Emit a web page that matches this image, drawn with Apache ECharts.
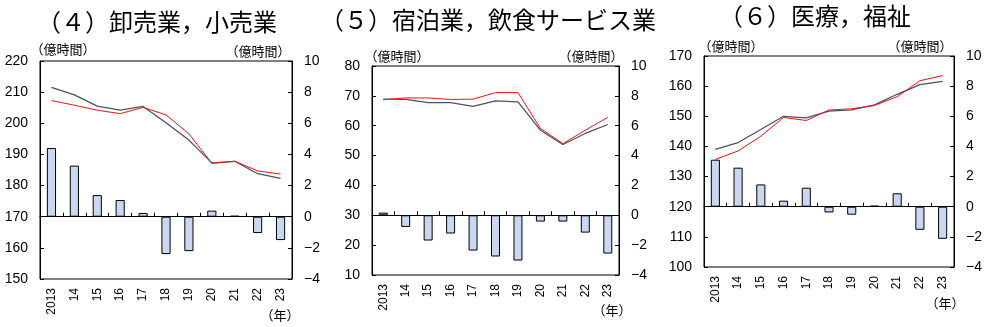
<!DOCTYPE html>
<html>
<head>
<meta charset="utf-8">
<script src="https://cdn.jsdelivr.net/npm/echarts@6/dist/echarts.min.js"></script>
<style>
html,body{margin:0;padding:0;background:#fff;}
#c{width:985px;height:327px;}
</style>
</head>
<body>
<div id="c"></div>
<script>
// ---- data ----
const years = ['2013','14','15','16','17','18','19','20','21','22','23'];

const titles = ['（４）卸売業，小売業', '（５）宿泊業，飲食サービス業', '（６）医療，福祉'];
const unitLabel = '（億時間）';
const yearLabel = '（年）';

// (4) 卸売業，小売業
const p4Gray = [211.5, 209.1, 205.5, 204.2, 205.4, 200.2, 194.6, 187.3, 187.8, 183.8, 182.3];
const p4Red  = [207.3, 205.8, 204.2, 203.1, 205.1, 202.7, 196.6, 187.1, 187.8, 184.7, 183.7];
const p4Bar  = [4.41, 3.28, 1.39, 1.07, 0.24, -2.40, -2.21, 0.39, 0.06, -1.05, -1.50];

// (5) 宿泊業，飲食サービス業
const p5Gray = [68.9, 68.8, 67.7, 67.7, 66.5, 68.3, 68.0, 58.5, 53.7, 57.4, 60.4];
const p5Red  = [68.7, 69.3, 69.3, 68.8, 68.9, 71.1, 71.1, 59.1, 54.0, 58.5, 62.8];
const p5Bar  = [0.18, -0.78, -1.69, -1.22, -2.36, -2.76, -3.03, -0.42, -0.42, -1.16, -2.56];

// (6) 医療，福祉
const p6Gray = [139.0, 141.3, 145.6, 150.0, 149.5, 151.7, 152.1, 153.8, 157.3, 160.5, 161.6];
const p6Red  = [135.7, 138.5, 143.4, 149.6, 148.6, 152.1, 152.5, 153.6, 156.5, 161.8, 163.5];
const p6Bar  = [3.12, 2.59, 1.48, 0.40, 1.26, -0.38, -0.53, 0.07, 0.89, -1.53, -2.13];

// axis ranges
const leftRanges = [[150, 220], [10, 80], [100, 170]];
const leftInterval = 10;
const rightRange = [-4, 10];
const rightInterval = 2;

// ---- chart ----
const panels = [
  {gray: p4Gray, red: p4Red, bar: p4Bar},
  {gray: p5Gray, red: p5Red, bar: p5Bar},
  {gray: p6Gray, red: p6Red, bar: p6Bar}
];

const gridPos = [
  {left: 40, top: 61, width: 252, height: 218},
  {left: 372, top: 66, width: 247, height: 209},
  {left: 704, top: 56, width: 250, height: 211}
];

const numFont = 'Liberation Sans, Arial, sans-serif';
const jpFont = '"Noto Sans CJK JP", sans-serif';

const grid = gridPos.map(g => Object.assign({show: true, borderColor: '#000', borderWidth: 1, backgroundColor: 'transparent'}, g));

const xAxis = gridPos.map((g, i) => ({
  type: 'category', gridIndex: i, data: years, boundaryGap: true,
  axisLine: {show: true, lineStyle: {color: '#000', width: 1}},
  axisTick: {show: true, inside: true, length: 4, interval: 0, lineStyle: {color: '#000'}},
  axisLabel: {rotate: 90, interval: 0, margin: 9, fontSize: 12, color: '#000', fontFamily: numFont}
}));

const yAxis = [];
gridPos.forEach((g, i) => {
  yAxis.push({
    type: 'value', gridIndex: i, position: 'left',
    min: leftRanges[i][0], max: leftRanges[i][1], interval: leftInterval,
    axisLine: {show: true, lineStyle: {color: '#000'}},
    axisTick: {show: true, inside: true, length: 4, lineStyle: {color: '#000'}},
    splitLine: {show: false},
    axisLabel: {fontSize: 14, color: '#000', margin: 12, fontFamily: numFont}
  });
  yAxis.push({
    type: 'value', gridIndex: i, position: 'right',
    min: rightRange[0], max: rightRange[1], interval: rightInterval,
    axisLine: {show: true, lineStyle: {color: '#000'}},
    axisTick: {show: true, inside: true, length: 4, lineStyle: {color: '#000'}},
    splitLine: {show: false},
    axisLabel: {fontSize: 14, color: '#000', margin: 12, fontFamily: numFont,
      formatter: v => String(v).replace('-', '\u2212')}
  });
});

const series = [];
panels.forEach((p, i) => {
  series.push({
    type: 'bar', xAxisIndex: i, yAxisIndex: i * 2 + 1, data: p.bar, barWidth: '40%',
    itemStyle: {color: '#cad7f3', borderColor: '#000', borderWidth: 1},
    silent: true, z: 1,
    markLine: {silent: true, symbol: 'none', label: {show: false},
      lineStyle: {color: '#000', width: 1, type: 'solid'}, data: [{yAxis: 0}]}
  });
  series.push({
    type: 'line', xAxisIndex: i, yAxisIndex: i * 2, data: p.gray,
    symbol: 'none', lineStyle: {color: '#4a5262', width: 1.3}, z: 3, silent: true
  });
  series.push({
    type: 'line', xAxisIndex: i, yAxisIndex: i * 2, data: p.red,
    symbol: 'none', lineStyle: {color: '#ff1010', width: 1}, z: 4, silent: true
  });
});

function txt(x, y, s, size, align) {
  return {type: 'text', x: x, y: y, silent: true,
    style: {text: s, font: size + 'px ' + jpFont, fill: '#000', align: align || 'center', verticalAlign: 'middle'}};
}

const graphic = [
  txt(157, 22, titles[0], 24),
  txt(488, 20, titles[1], 24),
  txt(815, 16, titles[2], 24),
  txt(63, 49, unitLabel, 13), txt(258, 51, unitLabel, 13),
  txt(397, 56, unitLabel, 13), txt(591, 56, unitLabel, 13),
  txt(731, 46, unitLabel, 13), txt(920, 46, unitLabel, 13),
  txt(280, 315, yearLabel, 13), txt(612, 310, yearLabel, 13), txt(945, 303, yearLabel, 13)
];

const chart = echarts.init(document.getElementById('c'), null, {renderer: 'canvas'});
chart.setOption({
  animation: false,
  backgroundColor: '#fff',
  grid: grid, xAxis: xAxis, yAxis: yAxis, series: series, graphic: graphic
});
</script>
</body>
</html>
